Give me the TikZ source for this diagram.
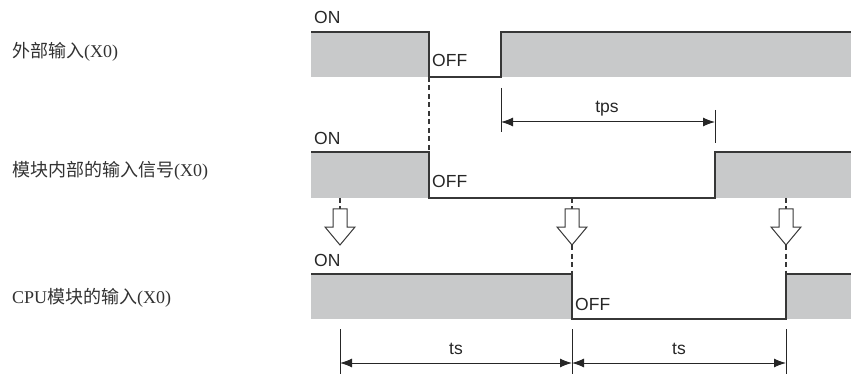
\documentclass[tikz,border=0pt]{standalone}
\usepackage{fontspec}
\setmainfont{Liberation Sans}
\newfontfamily\cjk{Noto Sans CJK SC}
\newfontfamily\lserif{Liberation Serif}
\usetikzlibrary{arrows.meta}
\definecolor{sigfill}{RGB}{200,201,202}
\definecolor{sigline}{RGB}{55,55,55}
\definecolor{labtext}{RGB}{50,50,50}
\begin{document}
\begin{tikzpicture}[x=1pt,y=-1pt,
  sig/.style={draw=sigline,line width=1.2pt,line join=miter},
  band/.style={fill=sigfill},
  guide/.style={draw=sigline,line width=1.1pt,dash pattern=on 5pt off 3.5pt},
  tick/.style={draw=black!85,line width=1pt},
  dim/.style={draw=black!85,line width=1pt,{Latex[length=12pt,width=9pt]}-{Latex[length=12pt,width=9pt]}},
  hollow/.style={draw=sigline,line width=1pt,fill=white,line join=miter},
  lvl/.style={font=\fontsize{17.5}{20}\selectfont,inner sep=0pt,text=black!85},
  lab/.style={font=\fontsize{18}{21}\selectfont,inner sep=0pt,anchor=west,text=labtext}
]
\useasboundingbox (0,0) rectangle (851,374);

% labels
\node[lab] (l1) at (12,51.5) {\cjk 外部输入\lserif(X0)};
\node[lab] (l2) at (12,171) {\cjk 模块内部的输入信号\lserif(X0)};
\node[lab] (l3) at (12,297.5) {\lserif CPU\cjk 模块的输入\lserif(X0)};

% signal 1
\fill[band] (311,32) rectangle (429,77);
\fill[band] (501,32) rectangle (851,77);
\draw[sig] (311,32) -- (429,32) -- (429,77) -- (501,77) -- (501,32) -- (851,32);
% signal 2
\fill[band] (311,152) rectangle (429,198);
\fill[band] (715,152) rectangle (851,198);
\draw[sig] (311,152) -- (429,152) -- (429,198) -- (715,198) -- (715,152) -- (851,152);
% signal 3
\fill[band] (311,274) rectangle (572,319);
\fill[band] (786,274) rectangle (851,319);
\draw[sig] (311,274) -- (572,274) -- (572,319) -- (786,319) -- (786,274) -- (851,274);

% level texts
\node[lvl,anchor=base west] (on1) at (314,24) {ON};
\node[lvl,anchor=base west] (off1) at (432,67) {OFF};
\node[lvl,anchor=base west] (on2) at (314,145) {ON};
\node[lvl,anchor=base west] (off2) at (432,188) {OFF};
\node[lvl,anchor=base west] (on3) at (314,266) {ON};
\node[lvl,anchor=base west] (off3) at (575,310) {OFF};

% guide lines
\draw[guide] (429,77) -- (429,152);
\foreach \x in {340,572,786} \draw[guide] (\x,198) -- (\x,209);
\foreach \x in {572,786} \draw[guide] (\x,245) -- (\x,274);

% hollow arrows
\foreach \x in {340,572,786}
  \draw[hollow] (\x-7,209) -- (\x+7,209) -- (\x+7,227) -- (\x+15,227) -- (\x,245) -- (\x-15,227) -- (\x-7,227) -- cycle;

% tps
\coordinate (tpsA) at (501,122);
\coordinate (tpsB) at (715,122);
\draw[tick] (501,88) -- (501,132);
\draw[tick] (715,110) -- (715,143);
\draw[dim] (tpsA) -- (tpsB);
\node[lvl,anchor=base] (tps) at (607,113) {tps};

% ts
\coordinate (tsA) at (340,363);
\coordinate (tsB) at (572,363);
\coordinate (tsC) at (786,363);
\foreach \x in {340,572,786} \draw[tick] (\x,329) -- (\x,374);
\draw[dim] (tsA) -- (tsB);
\draw[dim] (tsB) -- (tsC);
\node[lvl,anchor=base] (ts1) at (456,354) {ts};
\node[lvl,anchor=base] (ts2) at (679,354) {ts};
\end{tikzpicture}
\end{document}
